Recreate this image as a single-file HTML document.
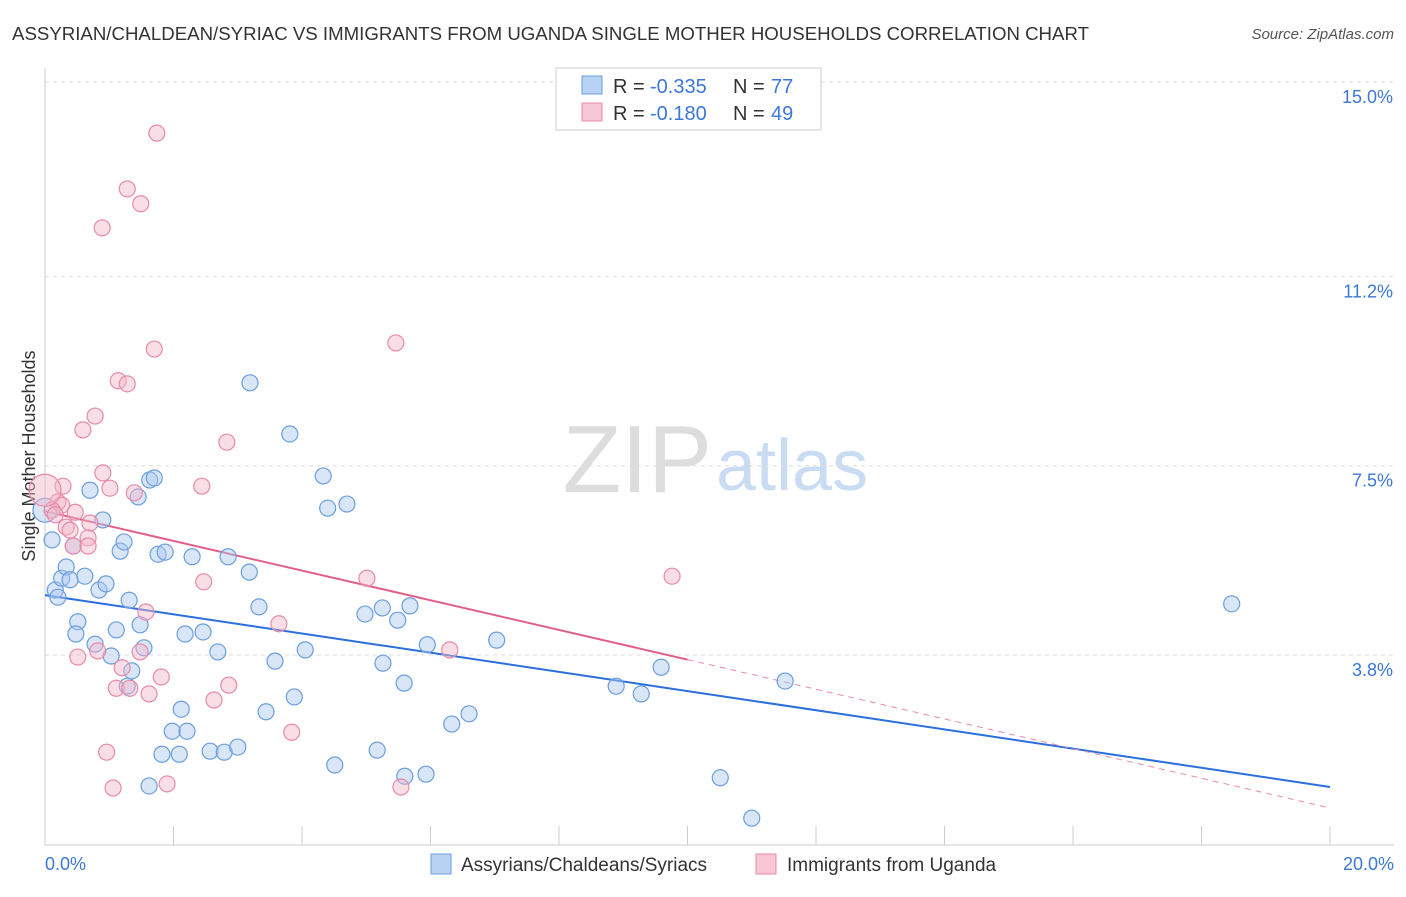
<!DOCTYPE html>
<html><head><meta charset="utf-8"><style>
body{margin:0;background:#fff;font-family:"Liberation Sans",sans-serif;}
svg text{font-family:"Liberation Sans",sans-serif;}
</style></head><body>
<svg id="chart" width="1406" height="892">
<text x="12" y="40" font-size="18" fill="#333" textLength="1077" lengthAdjust="spacingAndGlyphs">ASSYRIAN/CHALDEAN/SYRIAC VS IMMIGRANTS FROM UGANDA SINGLE MOTHER HOUSEHOLDS CORRELATION CHART</text>
<text x="1394" y="39" font-size="15" fill="#555" font-style="italic" text-anchor="end">Source: ZipAtlas.com</text>
<text x="712" y="492" font-size="96" fill="#ddd" text-anchor="end" font-family="Liberation Serif">ZIP</text>
<text x="716" y="490" font-size="72" fill="#c9dcf2">atlas</text>
<text transform="translate(35,456) rotate(-90)" font-size="18" fill="#333" text-anchor="middle">Single Mother Households</text>
<g id="grid"></g><g id="axes"></g><g id="trends"></g><g id="pts"></g>
<g>
<rect x="556" y="68" width="265" height="62" fill="#fff" stroke="#ccc"/>
<rect x="582" y="76" width="20" height="18" fill="#b9d3f5" stroke="#6a9ee0"/>
<text x="613" y="93" font-size="20" fill="#333">R = </text>
<text x="650" y="93" font-size="20" fill="#3b78d8">-0.335</text>
<text x="733" y="93" font-size="20" fill="#333">N = </text>
<text x="771" y="93" font-size="20" fill="#3b78d8">77</text>
<rect x="582" y="103" width="20" height="18" fill="#f9c6d5" stroke="#e88aa8"/>
<text x="613" y="120" font-size="20" fill="#333">R = </text>
<text x="650" y="120" font-size="20" fill="#3b78d8">-0.180</text>
<text x="733" y="120" font-size="20" fill="#333">N = </text>
<text x="771" y="120" font-size="20" fill="#3b78d8">49</text>
</g>
<g>
<rect x="431" y="854" width="20" height="20" fill="#b9d3f5" stroke="#6a9ee0"/>
<text x="461" y="871" font-size="19" fill="#333">Assyrians/Chaldeans/Syriacs</text>
<rect x="756" y="854" width="20" height="20" fill="#f9c6d5" stroke="#e88aa8"/>
<text x="787" y="871" font-size="19" fill="#333">Immigrants from Uganda</text>
</g>
</svg>
<script>
const yTicks=[15.0,11.2,7.5,3.8];
const yTickLabels=["15.0%","11.2%","7.5%","3.8%"];
const xTickLabels=["0.0%","20.0%"];
const blueX=[0,.11,.16,.20,.26,.33,.39,.62,.51,.48,.44,.70,.78,.84,.90,.95,1.03,1.11,1.17,1.23,1.31,1.35,1.28,1.45,1.48,1.54,1.63,1.70,1.76,1.87,1.62,1.82,2.09,2.12,1.98,2.21,2.18,2.46,2.29,2.69,2.57,2.79,2.85,3.00,3.18,3.19,3.33,3.44,3.58,3.81,3.88,4.05,4.33,4.40,4.51,4.70,4.98,5.17,5.25,5.26,5.49,5.59,5.60,5.68,5.95,5.93,6.33,6.60,7.03,8.89,9.28,9.59,10.51,11.00,11.52,18.47];
const blueY=[6.63,6.05,5.07,4.93,5.30,5.52,5.27,5.34,4.45,4.21,5.93,7.02,4.01,5.07,6.44,5.19,3.78,4.29,5.83,6.01,4.87,3.49,3.19,6.89,4.39,3.94,7.22,7.26,5.77,5.81,1.24,1.86,1.86,2.74,2.31,2.31,4.21,4.25,5.72,3.86,1.92,1.90,5.72,2.00,5.42,9.12,4.74,2.69,3.68,8.12,2.98,3.90,7.30,6.67,1.65,6.75,4.60,1.94,4.72,3.64,4.48,3.25,1.43,4.76,4.00,1.47,2.45,2.65,4.09,3.19,3.04,3.56,1.40,0.61,3.29,4.80];
const pinkX=[1.74,1.28,1.49,.89,1.70,5.46,1.14,1.28,.78,.59,2.83,.90,.28,1.01,2.44,1.39,.20,.26,.11,.16,.47,.70,.33,.39,.67,.44,.67,5.01,9.76,2.47,1.57,3.64,6.30,1.48,.51,.82,1.20,1.81,1.11,1.32,1.62,2.86,2.63,3.84,.96,1.06,1.90,5.54];
const pinkY=[14.00,12.91,12.62,12.15,9.78,9.90,9.16,9.10,8.47,8.20,7.96,7.36,7.10,7.06,7.10,6.97,6.79,6.73,6.63,6.54,6.59,6.38,6.30,6.24,6.09,5.93,5.93,5.30,5.34,5.23,4.64,4.41,3.90,3.86,3.76,3.88,3.55,3.37,3.15,3.15,3.04,3.21,2.92,2.29,1.90,1.20,1.28,1.22];
const blueTrend=[4.97,1.22];
const pinkTrend=[6.61,0.81];
const pinkSolidEnd=10.0;
const NS="http://www.w3.org/2000/svg";
const X=v=>45+v/20*1285;
const Y=v=>82+(15-v)*51.16;
function mk(tag,attrs,parent){const e=document.createElementNS(NS,tag);for(const k in attrs)e.setAttribute(k,attrs[k]);document.getElementById(parent).appendChild(e);return e;}
yTicks.forEach((t,i)=>{
 const g=mk('line',{x1:45,x2:1394,y1:Y(t),y2:Y(t),stroke:'#ddd','stroke-dasharray':'4,4'},'grid');
 
 
 const tx=mk('text',{x:1393,y:Y(t)+21,'font-size':18,fill:'#3b78d8','text-anchor':'end'},'grid');
 tx.textContent=yTickLabels[i];
 
 
});
const ax=mk('line',{x1:45,x2:45,y1:68,y2:845,stroke:'#ccc'},'axes');


const bx=mk('line',{x1:45,x2:1394,y1:845,y2:845,stroke:'#ccc'},'axes');


for(let i=0;i<=10;i++){
 const t=mk('line',{x1:X(i*2),x2:X(i*2),y1:826,y2:845,stroke:'#ccc'},'axes');
 
 
}
[[0,'start',45],[20,'end',1394]].forEach((d,i)=>{
 const tx=mk('text',{x:d[2],y:870,'font-size':18,fill:'#3b78d8','text-anchor':d[1]},'axes');
 tx.textContent=xTickLabels[i];
 
 
});
function dot(x,y,r,fill,stroke,name){
 const c=mk('circle',{cx:X(x),cy:Y(y),r:r,fill:fill,'fill-opacity':0.45,stroke:stroke,'stroke-width':1.2},'pts');
 
 
}
blueX.forEach((x,i)=>dot(x,blueY[i],i===0?12:8,'#a9c8f0','#6a9ee0','blue-point'));
pinkX.forEach((x,i)=>dot(x,pinkY[i],8,'#f5b5c8','#e88aa8','pink-point'));
dot(0,7.02,16,'#f5b5c8','#e88aa8','pink-point');
const bl=mk('line',{x1:X(0),y1:Y(blueTrend[0]),x2:X(20),y2:Y(blueTrend[1]),stroke:'#2a6fdb','stroke-width':2},'trends');


const pm=pinkTrend[0]+(pinkTrend[1]-pinkTrend[0])*pinkSolidEnd/20;
const pl=mk('line',{x1:X(0),y1:Y(pinkTrend[0]),x2:X(pinkSolidEnd),y2:Y(pm),stroke:'#e0608c','stroke-width':2},'trends');


const pd=mk('line',{x1:X(pinkSolidEnd),y1:Y(pm),x2:X(20),y2:Y(pinkTrend[1]),stroke:'#e88aa8','stroke-width':1,'stroke-dasharray':'6,5'},'trends');


</script>
</body></html>
